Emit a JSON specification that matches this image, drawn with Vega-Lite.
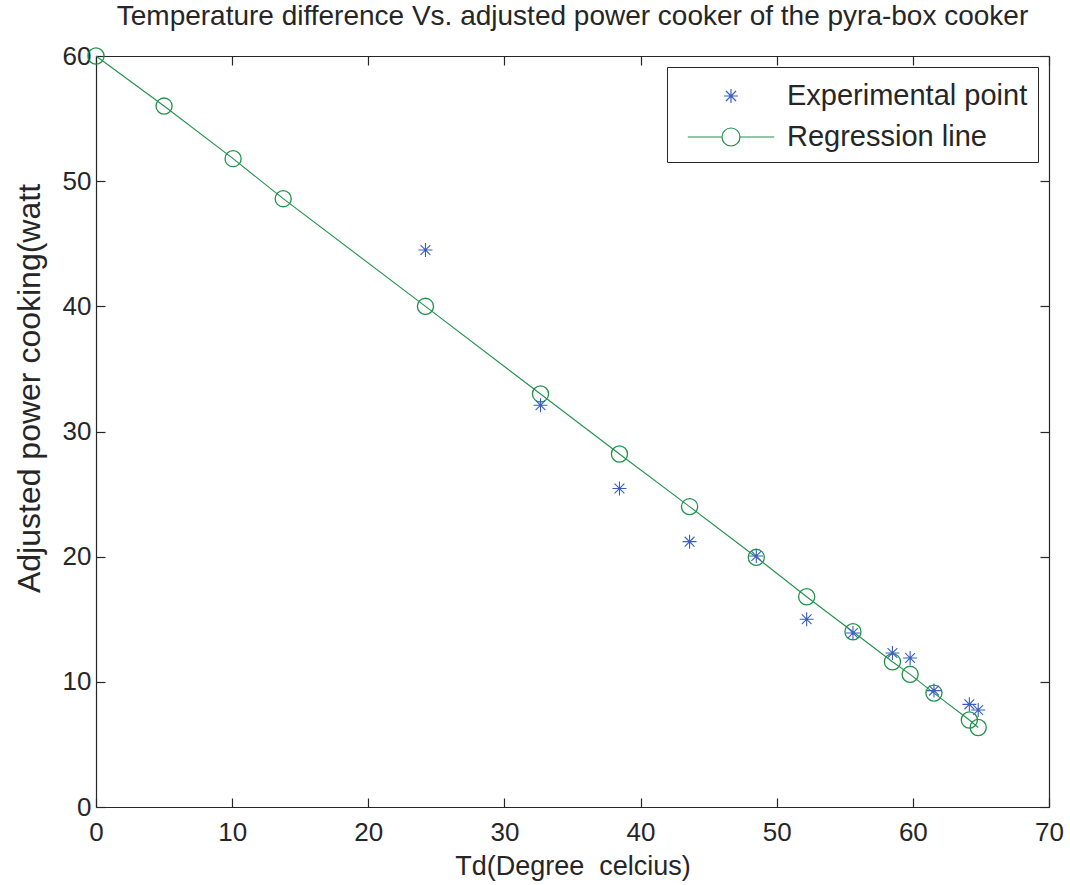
{
  "$schema": "https://vega.github.io/schema/vega-lite/v6.json",
  "width": 953,
  "height": 751,
  "autosize": "none",
  "padding": {"left": 96, "top": 56, "right": 21, "bottom": 78},
  "background": "white",
  "title": {
    "text": "Temperature difference Vs. adjusted power cooker of the pyra-box cooker",
    "font": "Liberation Sans",
    "fontSize": 28,
    "fontWeight": "normal",
    "color": "#262626",
    "anchor": "middle",
    "offset": 12
  },
  "config": {
    "view": {"stroke": null},
    "axis": {
      "domainColor": "#262626",
      "domainWidth": 1.2,
      "tickColor": "#262626",
      "tickSize": -9,
      "tickWidth": 1.2,
      "labelFont": "Liberation Sans",
      "labelFontSize": 26,
      "labelColor": "#262626",
      "labelFlush": false,
      "titleFont": "Liberation Sans",
      "titleFontSize": 27,
      "titleFontWeight": "normal",
      "titleColor": "#262626",
      "grid": false
    },
    "legend": {
      "title": null,
      "orient": "top-right",
      "offset": 11,
      "symbolSize": 1296,
      "labelFont": "Liberation Sans",
      "labelFontSize": 29,
      "labelLimit": 500,
      "labelColor": "#262626",
      "strokeColor": "#262626",
      "fillColor": "white",
      "padding": 10,
      "rowPadding": 7,
      "labelOffset": 72
    }
  },
  "data": {
    "values": [
      {"series": "Regression line", "td": 0, "power": 60.0},
      {"series": "Regression line", "td": 5, "power": 56.0},
      {"series": "Regression line", "td": 10.07, "power": 51.8},
      {"series": "Regression line", "td": 13.75, "power": 48.6},
      {"series": "Regression line", "td": 24.2, "power": 40.0},
      {"series": "Regression line", "td": 32.65, "power": 33.0},
      {"series": "Regression line", "td": 38.45, "power": 28.2},
      {"series": "Regression line", "td": 43.6, "power": 24.0},
      {"series": "Regression line", "td": 48.5, "power": 19.95},
      {"series": "Regression line", "td": 52.2, "power": 16.8},
      {"series": "Regression line", "td": 55.6, "power": 14.0},
      {"series": "Regression line", "td": 58.5, "power": 11.6},
      {"series": "Regression line", "td": 59.8, "power": 10.6},
      {"series": "Regression line", "td": 61.55, "power": 9.1},
      {"series": "Regression line", "td": 64.15, "power": 6.95},
      {"series": "Regression line", "td": 64.8, "power": 6.35},
      {"series": "Experimental point", "td": 24.2, "power": 44.5},
      {"series": "Experimental point", "td": 32.65, "power": 32.1},
      {"series": "Experimental point", "td": 38.45, "power": 25.45},
      {"series": "Experimental point", "td": 43.6, "power": 21.2},
      {"series": "Experimental point", "td": 48.5, "power": 20.05},
      {"series": "Experimental point", "td": 52.2, "power": 15.0},
      {"series": "Experimental point", "td": 55.6, "power": 13.9},
      {"series": "Experimental point", "td": 58.5, "power": 12.3},
      {"series": "Experimental point", "td": 59.8, "power": 11.9},
      {"series": "Experimental point", "td": 61.55, "power": 9.3},
      {"series": "Experimental point", "td": 64.15, "power": 8.2},
      {"series": "Experimental point", "td": 64.8, "power": 7.75}
    ]
  },
  "layer": [
    {
      "transform": [{"filter": "datum.series === 'Regression line'"}],
      "mark": {"type": "line", "strokeWidth": 1.1},
      "encoding": {
        "x": {"field": "td", "type": "quantitative", "scale": {"domain": [0, 70], "nice": false},
              "axis": {"orient": "bottom", "values": [0,10,20,30,40,50,60,70], "title": "Td(Degree\u00a0\u00a0celcius)", "labelPadding": 21, "titlePadding": 8}},
        "y": {"field": "power", "type": "quantitative", "scale": {"domain": [0, 60], "nice": false},
              "axis": {"orient": "left", "values": [0,10,20,30,40,50,60], "title": "Adjusted power cooking(watt", "titleFontSize": 32, "titleY": 332, "labelPadding": 14, "titlePadding": 16}},
        "color": {"field": "series", "type": "nominal",
                  "scale": {"domain": ["Experimental point", "Regression line"], "range": ["#3a5fc0", "#20924a"]},
                  "legend": {
                    "encode": {
                      "symbols": {
                        "update": {
                          "shape": {"signal": "datum.value === 'Regression line' ? 'M-0.456,0L1.444,0M2.444,0L4.344,0M1.444,0A0.5,0.5,0,1,1,2.444,0A0.5,0.5,0,1,1,1.444,0' : 'M1.554,0L2.334,0M1.944,-0.39L1.944,0.39M1.664,-0.28L2.224,0.28M1.664,0.28L2.224,-0.28'"},
                          "stroke": {"signal": "datum.value === 'Regression line' ? '#20924a' : '#3a5fc0'"},
                          "fill": {"value": "transparent"},
                          "strokeWidth": {"value": 1.2},
                          "size": {"value": 1296},
                          "opacity": {"value": 1}
                        }
                      }
                    }
                  }},
        "order": {"field": "td", "type": "quantitative"}
      }
    },
    {
      "transform": [{"filter": "datum.series === 'Regression line'"}],
      "mark": {"type": "point", "shape": "circle", "filled": false, "size": 260, "strokeWidth": 1.3, "opacity": 1},
      "encoding": {
        "x": {"field": "td", "type": "quantitative", "scale": {"domain": [0, 70], "nice": false},
              "axis": {"orient": "top", "values": [0,10,20,30,40,50,60,70], "labels": false, "title": null}},
        "y": {"field": "power", "type": "quantitative", "scale": {"domain": [0, 60], "nice": false},
              "axis": {"orient": "right", "values": [0,10,20,30,40,50,60], "labels": false, "title": null}},
        "color": {"field": "series", "type": "nominal"}
      }
    },
    {
      "transform": [{"filter": "datum.series === 'Experimental point'"}],
      "mark": {"type": "point", "shape": "M-1,0L1,0M0,-1L0,1M-0.7,-0.7L0.7,0.7M-0.7,0.7L0.7,-0.7", "filled": false, "size": 196, "strokeWidth": 1.1, "opacity": 1},
      "encoding": {
        "x": {"field": "td", "type": "quantitative", "axis": null},
        "y": {"field": "power", "type": "quantitative", "axis": null},
        "color": {"field": "series", "type": "nominal"}
      }
    }
  ]
}
